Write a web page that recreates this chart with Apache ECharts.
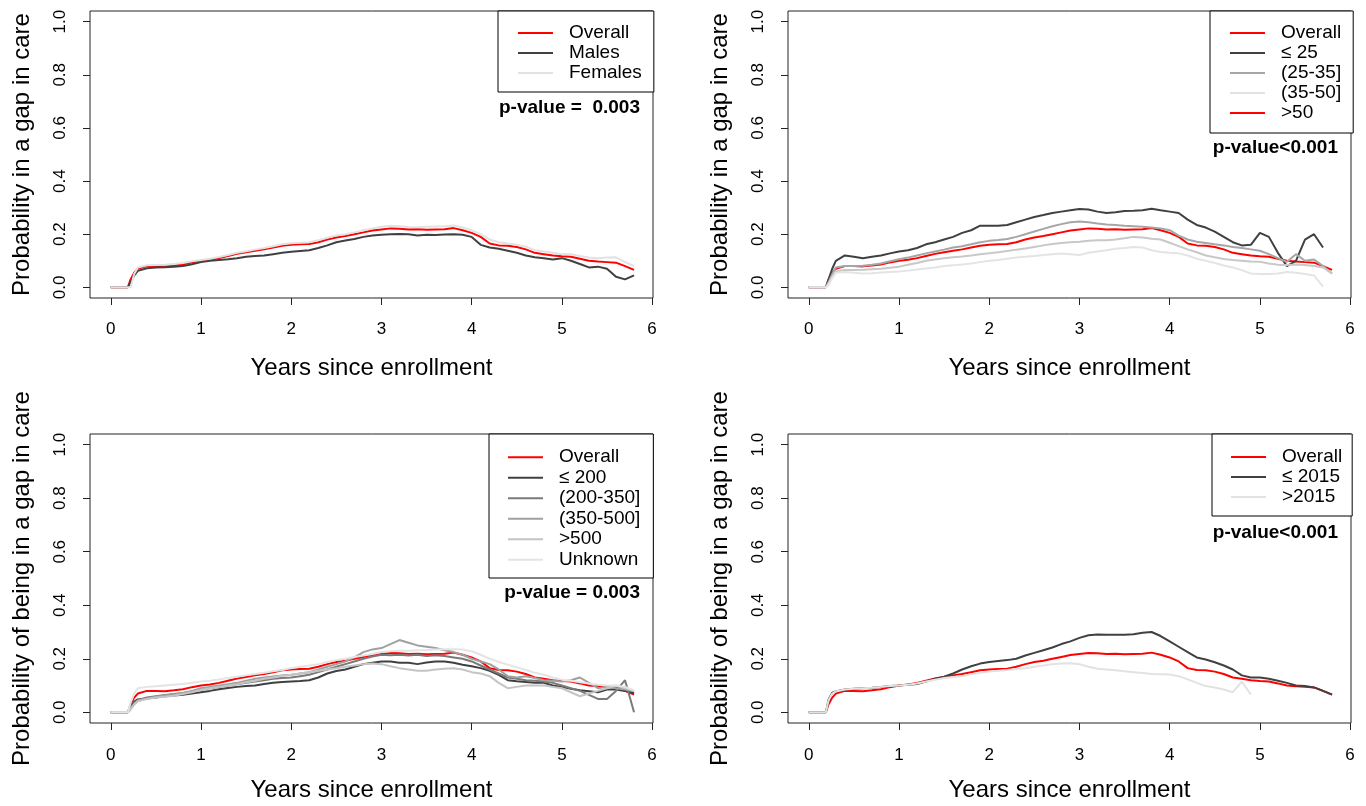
<!DOCTYPE html>
<html>
<head>
<meta charset="utf-8">
<script src="https://cdn.jsdelivr.net/npm/echarts@6/dist/echarts.min.js"></script>
<style>
  html, body { margin: 0; padding: 0; background: #fff; overflow: hidden; }
  #main { width: 1366px; height: 806px; }
</style>
</head>
<body>
<div id="main"></div>
<script>
// 时间轴 (years since enrollment)
var TIME = [0, 0.1, 0.19, 0.22, 0.26,
  0.3, 0.4, 0.5, 0.6, 0.7, 0.8, 0.9, 1.0, 1.1, 1.2,
  1.3, 1.4, 1.5, 1.6, 1.7, 1.8, 1.9, 2.0, 2.1, 2.2,
  2.3, 2.4, 2.5, 2.6, 2.7, 2.8, 2.9, 3.0, 3.1, 3.2,
  3.3, 3.4, 3.5, 3.6, 3.7, 3.8, 3.9, 4.0, 4.1, 4.2,
  4.3, 4.4, 4.5, 4.6, 4.7, 4.8, 4.9, 5.0, 5.1, 5.2,
  5.3, 5.4, 5.5, 5.6, 5.7, 5.8];

var xTicks = [0, 1, 2, 3, 4, 5, 6];
var yTicks = [0, 0.2, 0.4, 0.6, 0.8, 1.0];

// overall curve (same in every panel)
var overall = [0, 0, 0, 0.03, 0.055,
  0.07, 0.08, 0.08, 0.079, 0.082, 0.086, 0.094, 0.1, 0.104, 0.11,
  0.118, 0.126, 0.132, 0.138, 0.143, 0.15, 0.157, 0.16, 0.162, 0.163,
  0.17, 0.18, 0.188, 0.193, 0.2, 0.207, 0.214, 0.218, 0.222, 0.221,
  0.218, 0.219, 0.217, 0.218, 0.219, 0.223, 0.215, 0.205, 0.19, 0.165,
  0.158, 0.157, 0.152, 0.143, 0.13, 0.125, 0.12, 0.117, 0.115, 0.108,
  0.1, 0.097, 0.095, 0.093, 0.08, 0.066];

// panel 1: sex
var males = [0, 0, 0, 0.02, 0.045,
  0.062, 0.072, 0.075, 0.076, 0.078, 0.08, 0.087, 0.095, 0.1, 0.103,
  0.106, 0.11, 0.115, 0.118, 0.12, 0.125, 0.13, 0.134, 0.137, 0.14,
  0.148, 0.158, 0.17, 0.176, 0.182, 0.19, 0.195, 0.198, 0.2, 0.201,
  0.2, 0.195, 0.198, 0.197, 0.199, 0.2, 0.198, 0.19, 0.16, 0.15,
  0.145, 0.138, 0.13, 0.12, 0.113, 0.11, 0.105, 0.11, 0.1, 0.088,
  0.075, 0.078, 0.07, 0.04, 0.03, 0.045];
var females = [0, 0, 0, 0, 0.05,
  0.075, 0.083, 0.084, 0.085, 0.088, 0.092, 0.098, 0.103, 0.108, 0.114,
  0.122, 0.13, 0.136, 0.142, 0.148, 0.155, 0.162, 0.166, 0.168, 0.17,
  0.177, 0.187, 0.195, 0.2, 0.207, 0.215, 0.222, 0.228, 0.232, 0.23,
  0.227, 0.226, 0.228, 0.229, 0.23, 0.233, 0.225, 0.215, 0.2, 0.18,
  0.17, 0.165, 0.16, 0.153, 0.14, 0.135, 0.13, 0.125, 0.125, 0.118,
  0.112, 0.11, 0.112, 0.113, 0.095, 0.08];

// panel 2: age
var age25 = [0, 0, 0, 0.03, 0.07,
  0.1, 0.12, 0.115, 0.11, 0.115, 0.12, 0.128, 0.135, 0.14, 0.148,
  0.162, 0.17, 0.18, 0.19, 0.205, 0.215, 0.232, 0.232, 0.232, 0.235,
  0.245, 0.255, 0.265, 0.272, 0.28, 0.285, 0.29, 0.295, 0.293, 0.285,
  0.28, 0.283, 0.287, 0.288, 0.29, 0.296, 0.29, 0.285, 0.28, 0.255,
  0.235, 0.225, 0.21, 0.19, 0.17, 0.158, 0.16, 0.205, 0.19, 0.13,
  0.08, 0.1, 0.18, 0.2, 0.15, null];
var age35 = [0, 0, 0, 0.02, 0.05,
  0.075, 0.08, 0.08, 0.081, 0.085, 0.09, 0.098, 0.106, 0.112, 0.12,
  0.128, 0.135, 0.142, 0.15, 0.155, 0.162, 0.17, 0.175, 0.178, 0.182,
  0.19, 0.2, 0.21, 0.22, 0.23, 0.238, 0.245, 0.248, 0.245, 0.24,
  0.237, 0.235, 0.232, 0.23, 0.228, 0.225, 0.222, 0.215, 0.195, 0.18,
  0.172, 0.167, 0.162, 0.158, 0.152, 0.148, 0.143, 0.138, 0.125, 0.11,
  0.096, 0.125, 0.1, 0.105, 0.08, 0.052];
var age50 = [0, 0, 0, 0.015, 0.04,
  0.06, 0.065, 0.065, 0.066, 0.068, 0.07, 0.074, 0.078, 0.085, 0.092,
  0.1, 0.105, 0.11, 0.113, 0.116, 0.12, 0.125, 0.128, 0.132, 0.137,
  0.142, 0.146, 0.152, 0.158, 0.163, 0.167, 0.17, 0.172, 0.175, 0.177,
  0.177, 0.18, 0.185, 0.19, 0.188, 0.183, 0.18, 0.168, 0.155, 0.143,
  0.132, 0.12, 0.113, 0.107, 0.103, 0.1, 0.097, 0.096, 0.09, 0.085,
  0.084, 0.086, 0.084, 0.08, 0.075, 0.052];
var ageOver50 = [0, 0, 0, 0.01, 0.035,
  0.055, 0.058, 0.055, 0.052, 0.053, 0.056, 0.058, 0.06, 0.063, 0.067,
  0.071, 0.075, 0.08, 0.083, 0.086, 0.09, 0.095, 0.1, 0.103, 0.108,
  0.112, 0.115, 0.118, 0.122, 0.125, 0.127, 0.125, 0.122, 0.13, 0.135,
  0.14, 0.145, 0.148, 0.152, 0.15, 0.14, 0.133, 0.13, 0.128, 0.12,
  0.108, 0.1, 0.092, 0.082, 0.075, 0.065, 0.052, 0.05, 0.05, 0.052,
  0.058, 0.055, 0.05, 0.045, 0.003, null];

// panel 3: CD4
var cd200 = [0, 0, 0, 0.02, 0.04,
  0.048, 0.052, 0.055, 0.06, 0.063, 0.066, 0.07, 0.075, 0.08, 0.086,
  0.091, 0.095, 0.098, 0.1, 0.106, 0.11, 0.113, 0.115, 0.117, 0.12,
  0.13, 0.145, 0.154, 0.16, 0.17, 0.18, 0.185, 0.19, 0.19, 0.185,
  0.185, 0.18, 0.186, 0.19, 0.19, 0.185, 0.178, 0.172, 0.165, 0.155,
  0.14, 0.12, 0.116, 0.113, 0.11, 0.11, 0.1, 0.095, 0.088, 0.082,
  0.079, 0.075, 0.085, 0.085, 0.08, 0.072];
var cd350 = [0, 0, 0, 0.015, 0.035,
  0.045, 0.055, 0.06, 0.065, 0.068, 0.072, 0.078, 0.085, 0.09, 0.095,
  0.1, 0.105, 0.11, 0.115, 0.12, 0.125, 0.128, 0.13, 0.135, 0.14,
  0.15, 0.16, 0.17, 0.18, 0.19, 0.2, 0.208, 0.215, 0.213, 0.215,
  0.212, 0.215, 0.21, 0.213, 0.21, 0.205, 0.2, 0.19, 0.175, 0.16,
  0.145, 0.13, 0.125, 0.12, 0.118, 0.115, 0.11, 0.1, 0.09, 0.08,
  0.065, 0.05, 0.05, 0.08, 0.12, 0];
var cd500 = [0, 0, 0, 0.012, 0.03,
  0.042, 0.052, 0.058, 0.063, 0.067, 0.072, 0.08, 0.09, 0.095, 0.1,
  0.105, 0.11, 0.118, 0.125, 0.13, 0.134, 0.138, 0.14, 0.145, 0.15,
  0.16, 0.17, 0.18, 0.19, 0.205, 0.225, 0.235, 0.24, 0.255, 0.27,
  0.26, 0.25, 0.245, 0.24, 0.232, 0.225, 0.215, 0.2, 0.19, 0.18,
  0.16, 0.135, 0.13, 0.135, 0.128, 0.12, 0.118, 0.115, 0.12, 0.13,
  0.11, 0.09, 0.095, 0.09, 0.085, 0.08];
var cdOver500 = [0, 0, 0, 0.012, 0.03,
  0.042, 0.05, 0.055, 0.058, 0.062, 0.068, 0.075, 0.083, 0.09, 0.095,
  0.1, 0.105, 0.112, 0.118, 0.125, 0.13, 0.137, 0.14, 0.145, 0.15,
  0.155, 0.16, 0.165, 0.17, 0.175, 0.18, 0.182, 0.18, 0.172, 0.165,
  0.16, 0.155, 0.155, 0.16, 0.163, 0.165, 0.16, 0.15, 0.145, 0.135,
  0.11, 0.09, 0.095, 0.1, 0.1, 0.1, 0.095, 0.09, 0.075, 0.06,
  0.07, 0.08, 0.09, 0.1, 0.09, 0.08];
var cdUnknown = [0, 0, 0, 0.035, 0.07,
  0.09, 0.095, 0.097, 0.1, 0.103, 0.106, 0.11, 0.115, 0.118, 0.123,
  0.128, 0.133, 0.138, 0.143, 0.148, 0.153, 0.158, 0.165, 0.17, 0.175,
  0.18, 0.188, 0.195, 0.2, 0.207, 0.212, 0.218, 0.225, 0.228, 0.23,
  0.23, 0.232, 0.233, 0.235, 0.236, 0.236, 0.235, 0.228, 0.215, 0.2,
  0.188, 0.178, 0.168, 0.158, 0.148, 0.14, 0.13, 0.122, 0.118, 0.112,
  0.108, 0.103, 0.1, 0.1, 0.095, 0.082];

// panel 4: enrollment year
var yr2015 = [0, 0, 0, 0.048, 0.073,
  0.078, 0.085, 0.088, 0.09, 0.092, 0.095, 0.098, 0.1, 0.103, 0.106,
  0.115, 0.125, 0.133, 0.145, 0.16, 0.172, 0.182, 0.188, 0.192, 0.195,
  0.2, 0.212, 0.222, 0.232, 0.242, 0.255, 0.265, 0.278, 0.288, 0.291,
  0.29, 0.29, 0.29, 0.292, 0.297, 0.3, 0.285, 0.265, 0.245, 0.225,
  0.205, 0.197, 0.187, 0.175, 0.16, 0.138, 0.13, 0.13, 0.125, 0.118,
  0.11, 0.1, 0.098, 0.093, 0.08, 0.066];
var yrAfter2015 = [0, 0, 0, 0.045, 0.07,
  0.078, 0.085, 0.088, 0.09, 0.092, 0.095, 0.098, 0.1, 0.103, 0.108,
  0.115, 0.122, 0.128, 0.132, 0.135, 0.142, 0.148, 0.152, 0.155, 0.158,
  0.162, 0.165, 0.17, 0.175, 0.18, 0.182, 0.183, 0.18, 0.17, 0.163,
  0.16, 0.157, 0.153, 0.15, 0.147, 0.143, 0.142, 0.141, 0.135, 0.123,
  0.11, 0.098, 0.093, 0.085, 0.075, 0.115, 0.066, null, null, null,
  null, null, null, null, null, null];

var FONT = 'Liberation Sans, Arial, sans-serif';
var RED = '#ff0000';

function pairs(vals) {
  var out = [];
  for (var i = 0; i < TIME.length; i++) {
    if (vals[i] != null) out.push([TIME[i], vals[i]]);
  }
  return out;
}

var panels = [
  {
    left: 90, top: 11, height: 287, yName: 'Probability in a gap in care', xGap: 58, xMargin: 23,
    legend: { left: 498, top: 11, padding: [12, 12, 9, 19] },
    p: { text: 'p-value =  0.003', x: 640, y: 108 },
    lines: [
      { name: 'Overall', data: overall, color: RED },
      { name: 'Males', data: males, color: '#404040' },
      { name: 'Females', data: females, color: '#e2e2e2' }
    ],
    legendData: [{ name: 'Overall' }, { name: 'Males' }, { name: 'Females' }]
  },
  {
    left: 788, top: 11, height: 287, yName: 'Probability in a gap in care', xGap: 58, xMargin: 23,
    legend: { left: 1210, top: 11, padding: [12, 12, 10, 19] },
    p: { text: 'p-value<0.001', x: 1338, y: 148 },
    lines: [
      { name: 'Overall', data: overall, color: RED },
      { name: '≤ 25', data: age25, color: '#404040' },
      { name: '(25-35]', data: age35, color: '#a6a6a6' },
      { name: '(35-50]', data: age50, color: '#c8c8c8' },
      { name: '>50', data: ageOver50, color: '#e4e4e4' }
    ],
    legendData: [
      { name: 'Overall' }, { name: '≤ 25' },
      { name: '(25-35]', lineStyle: { color: '#a6a6a6' } },
      { name: '(35-50]', lineStyle: { color: '#e2e2e2' } },
      { name: '>50', lineStyle: { color: RED } }
    ]
  },
  {
    left: 90, top: 434, height: 289, yName: 'Probability of being in a gap in care', xGap: 55, xMargin: 24,
    legend: { left: 489, top: 434, padding: [13, 13, 8, 18], lineHeight: 20.5 },
    p: { text: 'p-value = 0.003', x: 640, y: 593 },
    lines: [
      { name: 'Overall', data: overall, color: RED },
      { name: '≤ 200', data: cd200, color: '#404040' },
      { name: '(200-350]', data: cd350, color: '#7a7a7a' },
      { name: '(350-500]', data: cd500, color: '#a0a0a0' },
      { name: '>500', data: cdOver500, color: '#c4c4c4' },
      { name: 'Unknown', data: cdUnknown, color: '#e4e4e4' }
    ],
    legendData: [{ name: 'Overall' }, { name: '≤ 200' }, { name: '(200-350]' },
      { name: '(350-500]' }, { name: '>500' }, { name: 'Unknown' }]
  },
  {
    left: 788, top: 434, height: 289, yName: 'Probability of being in a gap in care', xGap: 55, xMargin: 24,
    legend: { left: 1212, top: 434, padding: [13, 10, 9, 18] },
    p: { text: 'p-value<0.001', x: 1338, y: 533 },
    lines: [
      { name: 'Overall', data: overall, color: RED },
      { name: '≤ 2015', data: yr2015, color: '#404040' },
      { name: '>2015', data: yrAfter2015, color: '#e2e2e2' }
    ],
    legendData: [{ name: 'Overall' }, { name: '≤ 2015' }, { name: '>2015' }]
  }
];

var option = {
  animation: false,
  backgroundColor: '#fff',
  textStyle: { fontFamily: FONT },
  grid: [], xAxis: [], yAxis: [], series: [], legend: [], graphic: []
};

panels.forEach(function (p, k) {
  option.grid.push({
    left: p.left, top: p.top, width: 563, height: p.height,
    show: true, borderColor: '#222', borderWidth: 1, backgroundColor: 'transparent'
  });
  option.xAxis.push({
    type: 'value', gridIndex: k, min: -0.23, max: 6.01, position: 'bottom',
    name: 'Years since enrollment', nameLocation: 'middle', nameGap: p.xGap,
    nameTextStyle: { fontSize: 24, color: '#000', fontFamily: FONT },
    axisLine: { show: false, onZero: false },
    axisTick: { show: true, length: 7, customValues: xTicks, lineStyle: { color: '#222' } },
    axisLabel: { customValues: xTicks, fontSize: 17, color: '#000', margin: p.xMargin, fontFamily: FONT },
    splitLine: { show: false }
  });
  option.yAxis.push({
    type: 'value', gridIndex: k, min: -0.04, max: 1.04, position: 'left',
    name: p.yName, nameLocation: 'middle', nameGap: 56,
    nameTextStyle: { fontSize: 24, color: '#000', fontFamily: FONT },
    axisLine: { show: false, onZero: false },
    axisTick: { show: true, length: 7, customValues: yTicks, lineStyle: { color: '#222' } },
    axisLabel: {
      customValues: yTicks, rotate: 90, fontSize: 17, color: '#000', margin: 21, fontFamily: FONT,
      formatter: function (v) { return v.toFixed(1); }
    },
    splitLine: { show: false }
  });
  p.lines.forEach(function (s) {
    option.series.push({
      type: 'line', name: s.name, xAxisIndex: k, yAxisIndex: k,
      data: pairs(s.data), symbol: 'none', showSymbol: false,
      lineStyle: { color: s.color, width: 2 }, itemStyle: { color: s.color },
      emphasis: { disabled: true }
    });
  });
  option.legend.push({
    orient: 'vertical', left: p.legend.left, top: p.legend.top,
    padding: p.legend.padding, itemGap: 0, itemWidth: 35, itemHeight: 14,
    borderColor: '#000', borderWidth: 1, borderRadius: 0, backgroundColor: '#fff',
    selectedMode: false,
    itemStyle: { opacity: 0 },
    lineStyle: { width: 2 },
    textStyle: {
      fontSize: 19, color: '#000', fontFamily: FONT,
      lineHeight: p.legend.lineHeight || 20, padding: [0, 0, 0, 11]
    },
    data: p.legendData
  });
  option.graphic.push({
    type: 'text', x: p.p.x, y: p.p.y, z: 10,
    style: {
      text: p.p.text, fontSize: 19, fontWeight: 'bold', fontFamily: FONT,
      fill: '#000', align: 'right', verticalAlign: 'middle'
    }
  });
});

var myChart = echarts.init(document.getElementById('main'));
myChart.setOption(option);
</script>
</body>
</html>
